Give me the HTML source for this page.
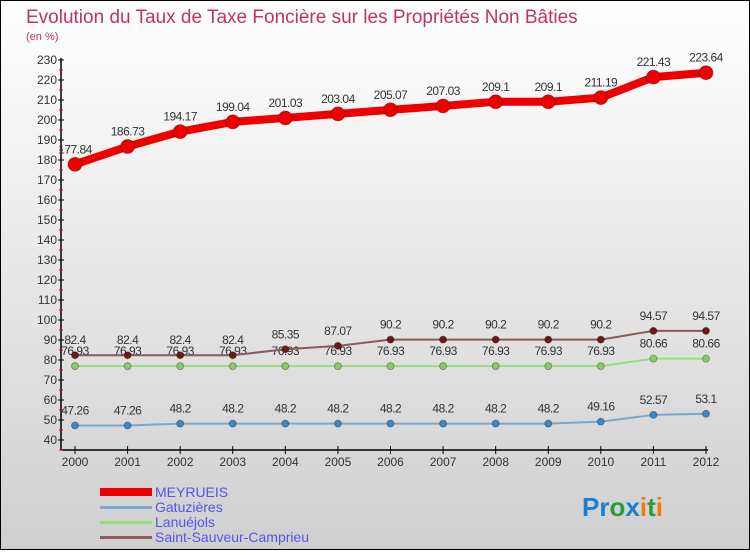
<!DOCTYPE html>
<html><head><meta charset="utf-8"><style>
body{margin:0}
svg text{font-family:"Liberation Sans",sans-serif}
</style></head><body>
<svg id="c" width="750" height="550" xmlns="http://www.w3.org/2000/svg">
<defs><linearGradient id="bg" x1="0" y1="0" x2="0" y2="1"><stop offset="0" stop-color="#ffffff"/><stop offset="1" stop-color="#cfcfcf"/></linearGradient></defs>
<rect x="0.5" y="0.5" width="749" height="549" fill="url(#bg)" stroke="#000"/>
<text x="26" y="23" font-size="19" fill="#c0335f">Evolution du Taux de Taxe Foncière sur les Propriétés Non Bâties</text>
<text x="26" y="40" font-size="11" fill="#c0335f">(en %)</text>
<g id="axes"></g><g id="series"></g>
<g>
<rect x="100" y="488" width="52" height="8" fill="#e00"/>
<text x="155" y="497" font-size="14" fill="#5555ee">MEYRUEIS</text>
<rect x="100" y="506" width="52" height="3" fill="#7aa8cc"/>
<text x="155" y="512" font-size="14" fill="#5555ee">Gatuzières</text>
<rect x="100" y="521" width="52" height="3" fill="#99dd77"/>
<text x="155" y="527" font-size="14" fill="#5555ee">Lanuéjols</text>
<rect x="100" y="536" width="52" height="3" fill="#8b5a5a"/>
<text x="155" y="542" font-size="14" fill="#5555ee">Saint-Sauveur-Camprieu</text>
</g>
<text x="582" y="516" font-size="26" font-weight="bold"><tspan fill="#1a7fd0">Pr</tspan><tspan fill="#2a9a3a">o</tspan><tspan fill="#1a7fd0">x</tspan><tspan fill="#f07a10">i</tspan><tspan fill="#2a9a3a">t</tspan><tspan fill="#f07a10">i</tspan></text>
</svg>
<script>
const years=["2000","2001","2002","2003","2004","2005","2006","2007","2008","2009","2010","2011","2012"];
const meyrueis=[177.84,186.73,194.17,199.04,201.03,203.04,205.07,207.03,209.1,209.1,211.19,221.43,223.64];
const gatuzieres=[47.26,47.26,48.2,48.2,48.2,48.2,48.2,48.2,48.2,48.2,49.16,52.57,53.1];
const lanuejols=[76.93,76.93,76.93,76.93,76.93,76.93,76.93,76.93,76.93,76.93,76.93,80.66,80.66];
const saintSauveur=[82.4,82.4,82.4,82.4,85.35,87.07,90.2,90.2,90.2,90.2,90.2,94.57,94.57];
const yTicks=[40,50,60,70,80,90,100,110,120,130,140,150,160,170,180,190,200,210,220,230];
const NS="http://www.w3.org/2000/svg";
const xS=i=>75+i*(706-75)/12;
const yS=v=>440-(v-40)*(380/190);
function mk(t,a,p){const e=document.createElementNS(NS,t);for(const k in a)e.setAttribute(k,a[k]);p.appendChild(e);return e;}
const ax=document.getElementById('axes');
mk('line',{x1:61,y1:58,x2:61,y2:450,stroke:'#000','stroke-width':1.5},ax);
mk('line',{x1:61,y1:450,x2:708,y2:450,stroke:'#000','stroke-width':1.5},ax);
yTicks.forEach(v=>{const y=yS(v);
 mk('line',{x1:58,y1:y,x2:64,y2:y,stroke:'#000'},ax);
 mk('line',{x1:59,y1:y+10,x2:63,y2:y+10,stroke:'#e00'},ax);
 const t=mk('text',{x:57,y:y+4,'font-size':12,'text-anchor':'end',fill:'#333'},ax);t.textContent=v;
 
 });
years.forEach((yr,i)=>{const x=xS(i);
 mk('line',{x1:x,y1:446,x2:x,y2:454,stroke:'#000'},ax);
 const t=mk('text',{x:x,y:466,'font-size':12,'text-anchor':'middle',fill:'#333'},ax);t.textContent=yr;
 
 });
const sg=document.getElementById('series');
function series(name,data,color,w,r,dot){
 const g=mk('g',{},sg);
 
 
 mk('polyline',{points:data.map((v,i)=>xS(i)+','+yS(v)).join(' '),fill:'none',stroke:color,'stroke-width':w,'stroke-linejoin':'round'},g);
 data.forEach((v,i)=>{const c=mk('circle',{cx:xS(i),cy:yS(v),r:r,fill:dot,stroke:'rgba(0,0,0,0.3)'},g);
  
  
  const t=mk('text',{x:xS(i),y:yS(v)-11,'font-size':12,'text-anchor':'middle',fill:'#333','letter-spacing':'-0.5'},g);t.textContent=v;
  
  });
}
series('lanuejols',lanuejols,'#99dd77',2,3.5,'#88cc66');
series('saint-sauveur',saintSauveur,'#8b5a5a',2,3.5,'#6b1a1a');
series('gatuzieres',gatuzieres,'#7aa8cc',2,3.5,'#3a88c8');
series('meyrueis',meyrueis,'#ee0000',8,7,'#e00');
</script>
</body></html>
